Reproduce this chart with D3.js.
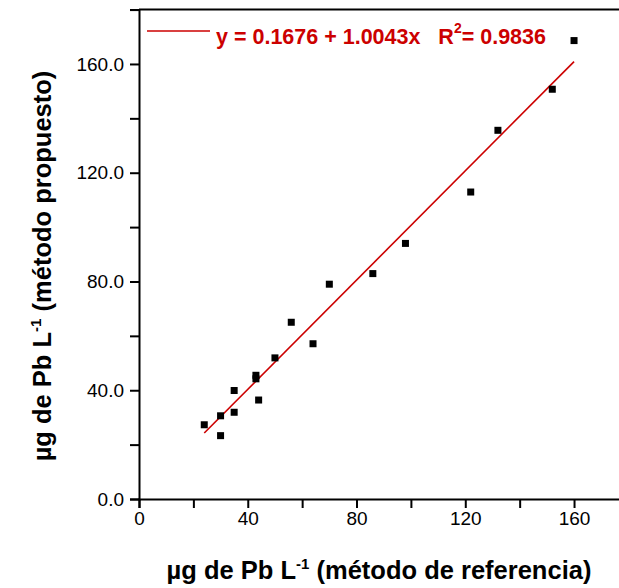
<!DOCTYPE html>
<html>
<head>
<meta charset="utf-8">
<script src="https://cdn.jsdelivr.net/npm/d3@7"></script>
<style>
  body { margin: 0; background: #fff; }
  svg { font-family: "Liberation Sans", Arial, sans-serif; }
  .axis path, .axis line { stroke: #000; stroke-width: 2; }
  .axis text { font-size: 19px; fill: #000; }
</style>
</head>
<body>
<div id="chart"></div>
<script>
// reference method (x) vs proposed method (y), µg Pb per L
var refValues = [24, 30, 30, 35, 35, 43, 43, 44, 50, 56, 64, 70, 86, 98, 122, 132, 152, 160];
var propValues = [27.3, 30.6, 23.3, 39.9, 31.9, 45.5, 44.2, 36.4, 51.9, 65.0, 57.1, 79.0, 82.9, 94.0, 112.9, 135.6, 150.7, 168.6];

var intercept = 0.1676;
var slope = 1.0043;
var fitLabel = "y = 0.1676 + 1.0043x   R";
var r2Label = "= 0.9836";

var tickValues = [0, 20, 40, 60, 80, 100, 120, 140, 160, 180];

var svgwidth = 619;
var svgheight = 588;

var svg = d3.select("#chart")
    .append("svg")
    .attr("width", svgwidth)
    .attr("height", svgheight);

var x = d3.scaleLinear().domain([0, 180]).range([139, 139 + 180 * 2.719]);
var y = d3.scaleLinear().domain([0, 180]).range([499, 499 - 180 * 2.719]);

var bottomaxis = d3.axisBottom(x)
    .tickValues(tickValues)
    .tickSize(9)
    .tickPadding(4)
    .tickFormat(function(d) { return d % 40 === 0 ? d : ""; });

var leftaxis = d3.axisLeft(y)
    .tickValues(tickValues)
    .tickSize(9)
    .tickPadding(6)
    .tickFormat(function(d) { return d % 40 === 0 ? d3.format(".1f")(d) : ""; });

// top frame line
svg.append("line")
    .attr("x1", x(0)).attr("x2", x(180))
    .attr("y1", y(180)).attr("y2", y(180))
    .attr("stroke", "#000")
    .attr("stroke-width", 2);

svg.append("g")
    .attr("class", "axis")
    .attr("transform", "translate(0," + y(0) + ")")
    .call(bottomaxis);

svg.append("g")
    .attr("class", "axis")
    .attr("transform", "translate(" + x(0) + ",0)")
    .call(leftaxis);

// fitted line
var xmin = d3.min(refValues), xmax = d3.max(refValues);
svg.append("line")
    .attr("x1", x(xmin)).attr("y1", y(intercept + slope * xmin))
    .attr("x2", x(xmax)).attr("y2", y(intercept + slope * xmax))
    .attr("stroke", "#cc0000")
    .attr("stroke-width", 1.6);

// points
svg.selectAll("rect.pt")
    .data(refValues)
    .enter()
    .append("rect")
    .attr("class", "pt")
    .attr("x", function(d) { return x(d) - 3.5; })
    .attr("y", function(d, i) { return y(propValues[i]) - 3.5; })
    .attr("width", 7)
    .attr("height", 7)
    .attr("fill", "#000");

// legend
svg.append("line")
    .attr("x1", 147).attr("x2", 210)
    .attr("y1", 31).attr("y2", 31)
    .attr("stroke", "#cc0000")
    .attr("stroke-width", 1.5);

var leg = svg.append("text")
    .attr("x", 216)
    .attr("y", 44)
    .attr("fill", "#cc0000")
    .style("font-size", "21.5px")
    .style("font-weight", "bold")
    .attr("xml:space", "preserve")
    .style("white-space", "pre");
leg.append("tspan").text(fitLabel);
leg.append("tspan").attr("dy", -11).style("font-size", "14px").text("2");
leg.append("tspan").attr("dy", 11).text(r2Label);

// axis titles
var xt = svg.append("text")
    .attr("x", 379)
    .attr("y", 579)
    .attr("text-anchor", "middle")
    .style("font-size", "25.5px")
    .style("font-weight", "bold");
xt.append("tspan").text("µg de Pb L");
xt.append("tspan").attr("dy", -10).style("font-size", "15px").text("-1");
xt.append("tspan").attr("dy", 10).text(" (método de referencia)");

var yt = svg.append("text")
    .attr("transform", "translate(51,266) rotate(-90)")
    .attr("text-anchor", "middle")
    .style("font-size", "25.5px")
    .style("font-weight", "bold");
yt.append("tspan").text("µg de Pb L");
yt.append("tspan").attr("dy", -10).style("font-size", "15px").text("-1");
yt.append("tspan").attr("dy", 10).text(" (método propuesto)");
</script>
</body>
</html>
